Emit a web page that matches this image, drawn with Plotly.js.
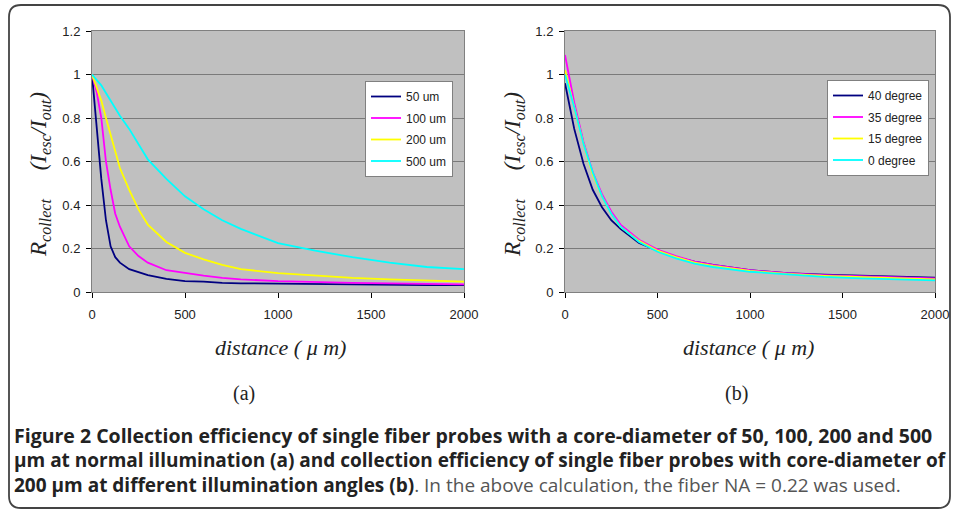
<!DOCTYPE html>
<html>
<head>
<meta charset="utf-8">
<script src="https://cdn.plot.ly/plotly-3.0.1.min.js"></script>
<style>
html,body{margin:0;padding:0;background:#fff;}
#chart{width:958px;height:512px;}
</style>
</head>
<body>
<div id="chart"></div>
<script>
// ---- Panel (a): core diameters at normal illumination ----
const distA = [0, 25, 50, 75, 100, 125, 150, 200, 250, 300, 400, 500, 600, 700, 800, 1000, 1200, 1400, 1600, 1800, 2000];
const um50  = [1.0, 0.74, 0.52, 0.33, 0.21, 0.16, 0.135, 0.105, 0.09, 0.078, 0.06, 0.05, 0.048, 0.042, 0.04, 0.038, 0.035, 0.034, 0.033, 0.032, 0.032];
const um100 = [1.0, 0.92, 0.8, 0.6, 0.47, 0.36, 0.3, 0.21, 0.165, 0.135, 0.1, 0.087, 0.075, 0.065, 0.058, 0.05, 0.045, 0.042, 0.04, 0.037, 0.035];
const um200 = [1.0, 0.94, 0.88, 0.8, 0.72, 0.64, 0.57, 0.47, 0.38, 0.31, 0.23, 0.18, 0.15, 0.125, 0.105, 0.087, 0.075, 0.065, 0.058, 0.053, 0.048];
const um500 = [1.0, 0.975, 0.95, 0.915, 0.88, 0.845, 0.81, 0.75, 0.68, 0.61, 0.52, 0.44, 0.38, 0.33, 0.29, 0.225, 0.19, 0.16, 0.135, 0.115, 0.105];
const namesA = ["50 um", "100 um", "200 um", "500 um"];

// ---- Panel (b): 200 um core at different illumination angles ----
const distB = [0, 25, 50, 100, 150, 200, 250, 300, 400, 500, 600, 700, 800, 1000, 1200, 1400, 1600, 1800, 2000];
const deg40 = [0.96, 0.85, 0.75, 0.59, 0.47, 0.39, 0.33, 0.29, 0.225, 0.19, 0.16, 0.14, 0.125, 0.1, 0.087, 0.08, 0.075, 0.07, 0.066];
const deg35 = [1.09, 0.98, 0.87, 0.69, 0.55, 0.45, 0.37, 0.31, 0.24, 0.195, 0.165, 0.14, 0.125, 0.1, 0.087, 0.078, 0.072, 0.068, 0.062];
const deg15 = [1.02, 0.94, 0.85, 0.68, 0.54, 0.44, 0.36, 0.3, 0.235, 0.19, 0.16, 0.135, 0.12, 0.097, 0.083, 0.074, 0.068, 0.063, 0.058];
const deg0  = [1.0, 0.93, 0.85, 0.68, 0.55, 0.44, 0.36, 0.3, 0.23, 0.185, 0.155, 0.13, 0.115, 0.093, 0.08, 0.07, 0.063, 0.058, 0.053];
const namesB = ["40 degree", "35 degree", "15 degree", "0 degree"];

const xTicks = [0, 500, 1000, 1500, 2000];
const yTicks = [0, 0.2, 0.4, 0.6, 0.8, 1, 1.2];

const colors = ["#000080", "#ff00ff", "#ffff00", "#00ffff"];

const W = 958, H = 512;
const px = x => x / W;
const py = y => 1 - y / H;

const traces = [];
[um50, um100, um200, um500].forEach((ys, i) => {
  traces.push({x: distA, y: ys, type: "scatter", mode: "lines", name: namesA[i],
    line: {color: colors[i], width: 1.8}, xaxis: "x", yaxis: "y",
    legend: "legend", legendgroup: "a" + i});
});
[deg40, deg35, deg15, deg0].forEach((ys, i) => {
  traces.push({x: distB, y: ys, type: "scatter", mode: "lines", name: namesB[i],
    line: {color: colors[i], width: 1.8}, xaxis: "x2", yaxis: "y2",
    legend: "legend2", legendgroup: "b" + i});
});

const tickFont = {family: "Liberation Sans, Arial, sans-serif", size: 13, color: "#222"};
function xa(domain, anchor) {
  return {domain: domain, anchor: anchor, range: [0, 2000], tickvals: xTicks,
    ticks: "outside", ticklen: 5, tickcolor: "#000", showgrid: false, zeroline: false,
    showline: true, linecolor: "#808080", linewidth: 1, mirror: true,
    tickfont: tickFont, ticklabelstandoff: 5, fixedrange: true};
}
function ya(domain, anchor) {
  return {domain: domain, anchor: anchor, range: [0, 1.2], tickvals: yTicks,
    ticks: "outside", ticklen: 5, tickcolor: "#000", showgrid: true, gridcolor: "#7a7a7a",
    gridwidth: 1, zeroline: false, showline: true, linecolor: "#808080", linewidth: 1,
    mirror: true, tickfont: tickFont, ticklabelstandoff: 3, fixedrange: true};
}

const yDom = [py(292), py(31)];
const serif = "Liberation Serif, Times New Roman, serif";
const capFont = "Open Sans, Liberation Sans, sans-serif";
const yTitle = "<i>R</i><sub>collect</sub>\u00A0\u00A0\u00A0\u00A0\u00A0(<i>I</i><sub>esc</sub>/<i>I</i><sub>out</sub>)";

const legendBase = {bgcolor: "#ffffff", bordercolor: "#808080", borderwidth: 1,
  font: {family: "Liberation Sans, Arial, sans-serif", size: 12, color: "#222"},
  xanchor: "left", yanchor: "top", tracegroupgap: 2.5, itemwidth: 30};

const ann = [
  {text: "<i>" + yTitle + "</i>", x: px(40), y: py(175), textangle: -90, font: {family: serif, size: 23, color: "#222"}},
  {text: "<i>" + yTitle + "</i>", x: px(514), y: py(175), textangle: -90, font: {family: serif, size: 23, color: "#222"}},
  {text: "<i>distance ( \u03BC m)</i>", x: px(280), y: py(347)},
  {text: "<i>distance ( \u03BC m)</i>", x: px(748), y: py(347)},
  {text: "(a)", x: px(244), y: py(393), font: {family: serif, size: 20, color: "#222"}},
  {text: "(b)", x: px(736), y: py(393), font: {family: serif, size: 20, color: "#222"}},
  {text: "<b>Figure 2 Collection efficiency of single fiber probes with a core-diameter of 50, 100, 200 and 500</b>",
    x: px(12), y: py(435), xanchor: "left", font: {family: capFont, size: 19.5, color: "#222"}},
  {text: "<b>\u03BCm at normal illumination (a) and collection efficiency of single fiber probes with core-diameter of</b>",
    x: px(12), y: py(460), xanchor: "left", font: {family: capFont, size: 19, color: "#222"}},
  {text: "<b>200 \u03BCm at different illumination angles (b)</b><span style=\"color:#555\">. In the above calculation, the fiber NA = 0.22 was used.</span>",
    x: px(12), y: py(485), xanchor: "left", font: {family: capFont, size: 19, color: "#222"}}
].map(a => Object.assign({xref: "paper", yref: "paper", showarrow: false, xanchor: "center", yanchor: "middle",
  font: {family: serif, size: 22, color: "#222"}}, a));

// rounded frame
const r = 12, L = 9, R = 950, T = 5, B = 508;
const pth = [
  `M ${px(L + r)} ${py(T)}`, `L ${px(R - r)} ${py(T)}`, `Q ${px(R)} ${py(T)} ${px(R)} ${py(T + r)}`,
  `L ${px(R)} ${py(B - r)}`, `Q ${px(R)} ${py(B)} ${px(R - r)} ${py(B)}`,
  `L ${px(L + r)} ${py(B)}`, `Q ${px(L)} ${py(B)} ${px(L)} ${py(B - r)}`,
  `L ${px(L)} ${py(T + r)}`, `Q ${px(L)} ${py(T)} ${px(L + r)} ${py(T)}`, "Z"
].join(" ");

const layout = {
  width: W, height: H, margin: {l: 0, r: 0, t: 0, b: 0},
  paper_bgcolor: "#ffffff", plot_bgcolor: "#c0c0c0", showlegend: true,
  xaxis: xa([px(92), px(464)], "y"), yaxis: ya(yDom, "x"),
  xaxis2: xa([px(565), px(935)], "y2"), yaxis2: ya(yDom, "x2"),
  legend: Object.assign({x: px(365), y: py(81)}, legendBase),
  legend2: Object.assign({x: px(827), y: py(80)}, legendBase),
  annotations: ann,
  shapes: [{type: "path", xref: "paper", yref: "paper", path: pth,
    line: {color: "#444", width: 1.8}, fillcolor: "rgba(0,0,0,0)", layer: "below"}]
};

Plotly.newPlot("chart", traces, layout, {staticPlot: true, displayModeBar: false});
</script>
</body>
</html>
